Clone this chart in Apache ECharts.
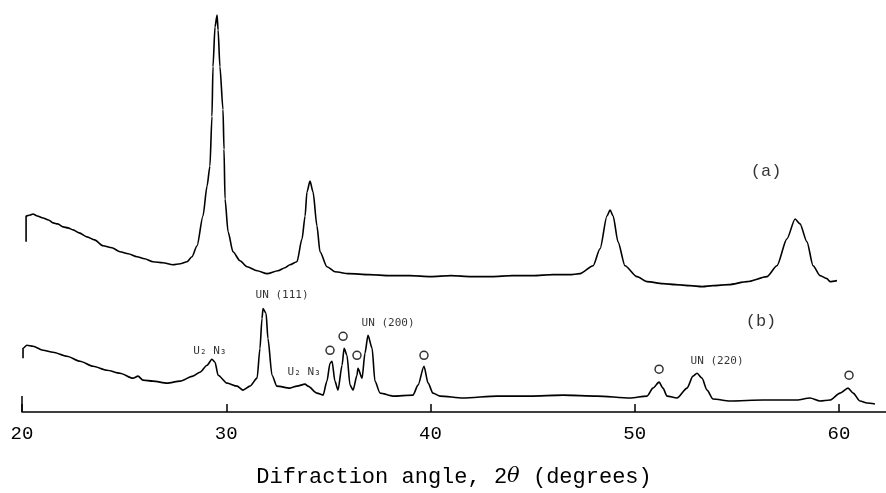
<!DOCTYPE html>
<html>
<head>
<meta charset="utf-8">
<script src="https://cdn.jsdelivr.net/npm/echarts@6/dist/echarts.min.js"></script>
<style>
  html, body { margin: 0; padding: 0; background: #fff; }
  #chart { width: 886px; height: 493px; }
</style>
</head>
<body>
<div id="chart"></div>
<script>
// diffraction angle 2theta (deg) and intensity (arbitrary units) for pattern (a)
const angleA = [20.20, 20.20, 20.40, 20.54, 20.75, 21.03, 21.30, 21.52, 21.75, 22.01, 22.25, 22.50, 22.80, 23.18,
  23.55, 23.97, 24.40, 24.80, 25.20, 25.63, 26.00, 26.41, 26.90, 27.39, 27.75, 28.08,
  28.32, 28.57, 28.86, 29.06, 29.20, 29.30, 29.35, 29.45, 29.55, 29.60, 29.69, 29.84, 29.89, 29.94, 30.09, 30.33,
  30.67, 31.02, 31.51, 32.00, 32.53, 32.88, 33.12, 33.46, 33.71, 33.86, 33.95, 34.10, 34.25, 34.44, 34.59, 34.93,
  35.32, 36.00, 37.00, 38.00, 39.00, 40.00, 41.00, 42.00, 43.00, 44.00, 45.00, 46.00, 46.80, 47.32, 47.96, 48.30,
  48.64, 48.79, 48.94, 49.18, 49.52, 50.11, 50.60, 51.38, 52.00, 52.71, 53.30, 53.83, 54.60, 55.50, 56.47, 56.96,
  57.45, 57.85, 58.09, 58.43, 58.73, 59.07, 59.41, 59.56, 59.90];
const intensityA = [171, 197, 198, 199, 197, 195, 193, 190, 189, 186, 185, 183, 180, 176,
  173, 167, 165, 161, 159, 156, 154, 151, 150, 148, 149, 151,
  156, 167, 197, 227, 247, 297, 347, 387, 399, 384, 347, 304, 264, 214, 181, 161,
  152, 146, 142, 139, 142, 145, 148, 151, 174, 197, 221, 232, 221, 187, 161, 146,
  141, 139, 138, 137, 137, 136, 137, 136, 136, 137, 137, 138, 138, 139, 147, 164,
  197, 203, 197, 171, 147, 136, 131, 129, 128, 127, 126, 127, 128, 131, 136, 147,
  174, 194, 189, 171, 147, 137, 134, 131, 132];

// pattern (b)
const angleB = [20.05, 20.05, 20.24, 20.54, 21.03, 21.52, 22.20, 22.84, 23.48, 24.16, 24.80, 25.43, 25.68, 25.92,
  26.41, 27.10, 27.74, 28.37, 28.71, 29.06, 29.30, 29.45, 29.60, 30.04, 30.53, 30.82, 31.16, 31.51, 31.65, 31.75,
  31.80, 31.95, 32.04, 32.24, 32.48, 33.12, 33.46, 33.86, 34.00, 34.44, 34.74, 34.93, 35.08, 35.18, 35.32, 35.47,
  35.67, 35.77, 35.91, 36.06, 36.21, 36.40, 36.45, 36.65, 36.79, 36.94, 37.14, 37.28, 37.53, 38.16, 39.14, 39.39,
  39.68, 39.88, 40.12, 40.47, 41.59, 43.26, 44.87, 46.49, 48.15, 49.77, 50.60, 50.89, 51.19, 51.38, 51.58, 52.07,
  52.56, 52.85, 53.05, 53.29, 53.54, 53.83, 54.66, 56.28, 57.94, 58.58, 59.07, 59.56, 60.05, 60.44, 60.69, 61.03,
  61.37, 61.76];
const intensityB = [54, 64, 67, 66, 62, 60, 56, 51, 46, 42, 39, 34, 36, 32,
  31, 29, 31, 36, 40, 47, 53, 50, 37, 29, 26, 22, 26, 34, 64, 94,
  104, 99, 74, 37, 26, 24, 26, 28, 26, 19, 17, 31, 49, 51, 31, 22,
  47, 64, 57, 27, 22, 37, 44, 34, 59, 77, 64, 31, 19, 16, 17, 27,
  46, 29, 19, 16, 14, 16, 16, 17, 16, 14, 16, 24, 30, 24, 16, 14,
  24, 36, 39, 34, 22, 13, 11, 12, 12, 14, 11, 12, 19, 24, 19, 11,
  9, 8];

// peak identification labels for (b)
const peakNames = ['U₂ N₃', 'UN (111)', 'U₂ N₃', 'UN (200)', 'UN (220)'];
const peakNameAngles = [29.2, 32.73, 33.81, 37.92, 54.03];
const peakNameHeights = [61, 117, 40, 89, 51];
// open circles marking unidentified peaks
const circleAngles = [35.08, 35.72, 36.40, 39.68, 51.19, 60.49];
const circleHeights = [62, 76, 57, 57, 43, 37];
// curve tags
const curveTags = ['(a)', '(b)'];
const curveTagAngles = [56.43, 56.18];
const curveTagHeights = [242, 91];

const xTicks = [20, 30, 40, 50, 60];

const chart = echarts.init(document.getElementById('chart'));
const mono = '"Liberation Mono", "DejaVu Sans Mono", monospace';

const option = {
  animation: false,
  backgroundColor: '#fff',
  grid: { left: 22, right: 0, top: 0, bottom: 79 },
  xAxis: {
    type: 'value',
    min: 20,
    max: 62.3,
    interval: 10,
    splitLine: { show: false },
    axisLine: { lineStyle: { color: '#000', width: 1.5 } },
    axisTick: { inside: true, length: 8, lineStyle: { color: '#000', width: 1.5 } },
    axisLabel: {
      color: '#000',
      fontFamily: mono,
      fontSize: 19,
      margin: 12,
      showMaxLabel: false,
      formatter: (v) => (xTicks.includes(v) ? String(v) : '')
    },
    name: 'Difraction angle, 2{t|θ} (degrees)',
    nameLocation: 'middle',
    nameGap: 54,
    nameTextStyle: {
      color: '#000',
      fontFamily: mono,
      fontSize: 22,
      rich: {
        t: { fontFamily: '"DejaVu Serif", serif', fontStyle: 'italic', fontSize: 21, color: '#000' }
      }
    }
  },
  yAxis: {
    type: 'value',
    min: 0,
    max: 414,
    show: false
  },
  series: [
    {
      name: '(a)',
      type: 'line',
      data: angleA.map((a, i) => [a, intensityA[i]]),
      showSymbol: false,
      smooth: 0.25,
      smoothMonotone: 'x',
      lineStyle: { color: '#000', width: 1.6 }
    },
    {
      name: '(b)',
      type: 'line',
      data: angleB.map((a, i) => [a, intensityB[i]]),
      showSymbol: false,
      smooth: 0.25,
      smoothMonotone: 'x',
      lineStyle: { color: '#000', width: 1.6 },
      markLine: {
        symbol: 'none',
        silent: true,
        label: { show: false },
        lineStyle: { color: '#000', width: 1.5, type: 'solid' },
        data: [[{ coord: [20, 0] }, { coord: [20, 16] }]]
      }
    },
    {
      type: 'scatter',
      data: peakNames.map((n, i) => [peakNameAngles[i], peakNameHeights[i], n]),
      symbolSize: 0,
      silent: true,
      label: {
        show: true,
        position: 'inside',
        formatter: (p) => p.value[2],
        color: '#000',
        fontFamily: '"DejaVu Sans Mono", monospace',
        fontSize: 11
      }
    },
    {
      type: 'scatter',
      data: circleAngles.map((a, i) => [a, circleHeights[i]]),
      symbol: 'circle',
      symbolSize: 8,
      silent: true,
      itemStyle: { color: '#fff', borderColor: '#000', borderWidth: 1.5 }
    },
    {
      type: 'scatter',
      data: curveTags.map((n, i) => [curveTagAngles[i], curveTagHeights[i], n]),
      symbolSize: 0,
      silent: true,
      label: {
        show: true,
        position: 'inside',
        formatter: (p) => p.value[2],
        color: '#000',
        fontFamily: mono,
        fontSize: 17
      }
    }
  ]
};

chart.setOption(option);
</script>
</body>
</html>
